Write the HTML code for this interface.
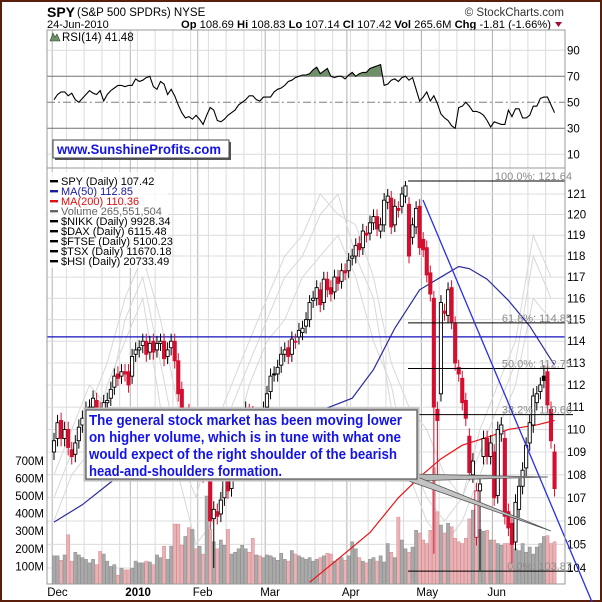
<!DOCTYPE html>
<html><head><meta charset="utf-8">
<style>
html,body{margin:0;padding:0;background:#fff;}
#wrap{position:relative;width:602px;height:602px;overflow:hidden;}
svg text{font-family:"Liberation Sans",Arial,sans-serif;}
</style></head>
<body>
<div id="wrap">
<svg id="chart" width="602" height="602" viewBox="0 0 602 602" xmlns="http://www.w3.org/2000/svg">
<defs>
<clipPath id="mainClip"><rect x="47" y="169" width="518" height="415"/></clipPath>
<clipPath id="rsiClip"><rect x="47" y="30" width="518" height="138"/></clipPath>
<clipPath id="above70"><rect x="47" y="30" width="518" height="46.3"/></clipPath>
</defs>
<rect x="0" y="0" width="602" height="602" fill="#fff" stroke="#5a1e0c" stroke-width="4"/>
<text x="47" y="17" font-size="14" font-weight="bold">SPY</text>
<text x="77" y="16" font-size="11.5">(S&amp;P 500 SPDRs) NYSE</text>
<text x="564" y="16" font-size="11.5" text-anchor="end" fill="#333">© StockCharts.com</text>
<text x="47" y="28" font-size="11">24-Jun-2010</text>
<text x="181" y="28" font-size="11" textLength="370" lengthAdjust="spacingAndGlyphs"><tspan font-weight="bold">Op</tspan> 108.69 <tspan font-weight="bold">Hi</tspan> 108.83 <tspan font-weight="bold">Lo</tspan> 107.14 <tspan font-weight="bold">Cl</tspan> 107.42 <tspan font-weight="bold">Vol</tspan> 265.6M <tspan font-weight="bold">Chg</tspan> -1.81 (-1.66%)</text>
<polygon points="555,22 562,22 558.5,27" fill="#a01030"/>
</svg>
</div>
<script>
// ---------- data ----------
const monthLabels=["Dec","2010","Feb","Mar","Apr","May","Jun"];
const monthStartIdx=[0,22,41,60,83,104,124];
const closes=[109.5,110.3,109.6,110.0,109.2,108.8,109.4,110.1,110.5,110.9,111.0,111.4,111.0,110.7,111.2,111.3,111.8,112.4,112.3,112.6,112.5,112.0,
113.3,113.6,113.7,114.0,113.4,113.9,113.5,113.9,114.0,113.2,113.6,114.0,113.1,111.6,110.0,110.6,109.5,109.9,108.3,
109.3,108.0,108.3,106.0,106.5,106.2,106.9,107.8,107.3,108.5,109.0,109.8,110.4,110.9,110.6,110.0,110.3,110.0,110.9,
111.6,112.4,112.5,112.8,113.4,113.6,113.3,114.1,114.0,114.5,114.6,115.0,115.8,116.0,116.5,115.7,116.9,116.4,116.2,117.0,116.7,117.3,117.2,
117.8,118.0,118.5,118.3,119.2,119.0,119.6,119.9,119.3,119.5,120.7,120.9,119.4,120.4,120.2,121.0,121.4,118.0,119.5,120.3,118.4,
118.3,117.1,116.2,111.0,110.4,115.8,115.3,116.4,114.9,113.0,112.5,111.2,110.5,108.1,108.6,107.3,107.6,109.6,108.8,109.4,
107.0,110.0,110.2,106.2,105.7,105.0,106.8,107.5,108.2,109.3,110.3,111.5,111.6,112.0,112.2,111.1,109.5,107.4];
const opens=[109.0,109.6,110.4,109.6,110.0,109.1,108.9,109.5,110.2,110.6,111.0,111.0,111.3,110.9,110.8,111.2,111.4,111.9,112.5,112.4,112.6,112.6,
112.4,113.4,113.6,113.8,114.0,113.5,114.0,113.6,113.9,114.0,113.3,113.7,114.0,113.1,111.8,110.0,110.8,109.6,110.0,
108.5,109.4,108.1,108.2,106.1,106.4,106.3,107.0,107.9,107.4,108.6,109.2,109.9,110.5,110.8,110.7,110.0,110.4,110.1,
111.0,111.7,112.5,112.5,112.9,113.4,113.7,113.4,114.0,114.2,114.4,114.7,115.0,115.9,116.0,116.4,115.8,116.9,116.5,116.3,117.0,116.8,117.3,
117.3,117.9,118.0,118.6,118.4,119.1,119.1,119.6,119.9,119.2,119.5,120.6,120.8,119.5,120.3,120.4,120.9,120.5,118.9,119.4,120.4,
118.8,118.4,117.2,116.0,110.9,111.6,115.4,115.2,116.5,114.8,112.8,112.3,111.3,109.7,108.0,105.3,107.3,108.8,109.6,108.8,
109.0,107.1,109.8,109.6,106.4,105.9,105.1,106.5,107.5,108.3,109.4,110.2,111.2,111.7,112.4,112.6,110.9,109.0];
const wickLowIdx=[45,107,108,120,129];
const wickLowVal=[104.0,104.6,107.8,103.9,104.2];
const wickHighIdx=[99,138];
const wickHighVal=[121.64,112.9];
const volumes=[160,160,135,165,280,130,180,165,150,140,120,140,110,185,170,130,100,110,50,90,80,80,
90,130,120,120,130,125,110,165,150,215,140,215,340,340,220,270,320,310,200,
215,170,500,310,240,200,250,220,310,170,180,200,220,200,180,260,165,160,150,
165,160,150,135,175,140,130,190,170,160,150,140,150,130,140,150,160,175,170,130,140,150,135,
160,240,200,150,130,120,140,150,130,160,125,230,180,150,380,250,200,180,210,305,290,
250,230,305,660,410,335,290,345,325,260,240,230,260,370,420,330,310,300,305,250,
250,230,220,230,230,250,200,190,230,180,210,170,210,230,270,275,230,240];
const rsiValues=[52,56,58,58,55,57,52,50,53,56,59,57,56,59,51,56,59,61,63,63,62,63,
63,68,66,67,69,70,62,60,66,64,56,60,55,48,42,38,39,37,40,
37,33,40,46,44,36,35,37,40,42,44,48,50,52,55,55,52,51,54,
54,54,58,60,61,63,66,67,69,70,71,71,72,75,77,72,74,76,70,69,70,70,68,
71,73,70,72,73,73,76,77,78,79,63,64,67,68,66,69,70,67,69,60,51,
54,58,51,55,49,41,38,36,32,30,46,47,50,47,43,43,42,40,36,31,
35,34,33,33,44,39,45,45,38,38,40,47,47,53,54,54,48,42];
const ma50Idx=[0,8,17,45,76,84,90,96,103,109,114,117,122,128,134,141];
const ma50Val=[105.95,106.7,107.8,108.9,110.9,111.4,112.7,114.6,116.4,117.0,117.5,117.4,116.9,115.9,114.7,112.9];
const ma200Idx=[72,81,89,97,103,109,115,123,128,136,141];
const ma200Val=[103.4,104.5,105.5,107.0,107.9,108.7,109.3,109.7,110.0,110.2,110.4];
const weeklyIdx=[0,5,10,15,20,25,30,35,40,45,50,55,60,65,70,75,80,85,90,95,100,105,110,115,120,125,130,135,140];
const nikkLine=[108,110,112,111,115,117,113,109,107,110,112,114,116,118,119,121,120,119.5,117,113,111,110,108,107,109,111,113,118,116];
const daxLine=[106,108,109,112,114,116,111,108,105,106,109,112,114,115,117,118,119,117,114,112,108,106,105,106,108,110,112,116,115];
const ftseLine=[107,109,111,113,116,118,115,111,108,108,111,113,115,117,118,120,121,118,116,111,109,107,106,107,110,112,114,119,117];
const priceTicks=[104,105,106,107,108,109,110,111,112,113,114,115,116,117,118,119,120,121];
const volTicks=[100,200,300,400,500,600,700];
const rsiTicks=[10,30,50,70,90];
const fibLevels=[121.64,114.85,112.75,110.66,103.87];
const fibLabels=["100.0%: 121.64","61.8%: 114.85","50.0%: 112.75","38.2%: 110.66","0.0%: 103.87"];
const resistanceLevel=[114.2];
const legendLines=["SPY (Daily) 107.42","MA(50) 112.85","MA(200) 110.36","Volume 265,551,504","$NIKK (Daily) 9928.34","$DAX (Daily) 6115.48","$FTSE (Daily) 5100.23","$TSX (Daily) 11670.18","$HSI (Daily) 20733.49"];
const legendColors=["#000","#1a1aa0","#e01010","#666","#000","#000","#000","#000","#000"];

// ---------- scales ----------
const NS='http://www.w3.org/2000/svg';
const svg=document.getElementById('chart');
function mk(tag,attrs,parent){const e=document.createElementNS(NS,tag);for(const k in attrs)e.setAttribute(k,attrs[k]);(parent||svg).appendChild(e);return e;}
function xOf(i){return 54+i*3.55;}
function yP(p){return 568-2470*Math.log(p/104);}
function yV(v){return 584-v*0.176;}
function yR(r){return 167.3-r*1.3;}
const PL=47,PR=565;

// ---------- panels & grids ----------
const gridG=mk('g',{});


for(let i=4;i<142;i+=5){
  const x=xOf(i)-1.8;
  const l1=mk('line',{x1:x,x2:x,y1:30,y2:168,stroke:'#dcdcdc','stroke-width':1},gridG);
  
  const l2=mk('line',{x1:x,x2:x,y1:169,y2:584,stroke:'#dcdcdc','stroke-width':1},gridG);
  
}
monthStartIdx.forEach((m,k)=>{
  const x=xOf(m)-1.8;
  const l=mk('line',{x1:x,x2:x,y1:30,y2:584,stroke:'#b4b4b4','stroke-width':1},gridG);
  
  const t=mk('text',{x:x-5,y:596,'font-size':11.5,fill:'#000','font-weight':monthLabels[k]==='2010'?'bold':'normal'});
  
  
  t.textContent=monthLabels[k];
});
priceTicks.forEach(p=>{
  const y=yP(p);
  const l=mk('line',{x1:PL,x2:PR,y1:y,y2:y,stroke:'#dcdcdc','stroke-width':1},gridG);
  
  const t=mk('text',{x:567,y:y+4,'font-size':11.5});
  
  
  t.textContent=p;
});
volTicks.forEach(v=>{
  const y=yV(v);
  const t=mk('text',{x:44,y:y+4,'font-size':11.5,'text-anchor':'end'});
  
  
  t.textContent=v+'M';
});
rsiTicks.forEach(r=>{
  const y=yR(r);
  let attrs={x1:PL,x2:PR,y1:y,y2:y,stroke:'#dcdcdc','stroke-width':1};
  if(r===70||r===30){attrs.stroke='#707070';}
  if(r===50){attrs.stroke='#808080';attrs['stroke-dasharray']='8,3,2,3';}
  const l=mk('line',attrs,gridG);
  
  const t=mk('text',{x:567,y:y+4,'font-size':11.5});
  
  
  t.textContent=r;
});

// ---------- RSI ----------
let rsiPts=rsiValues.map((r,i)=>xOf(i)+','+yR(r)).join(' ');
const rsiFill=mk('polygon',{points:xOf(0)+','+yR(70)+' '+rsiPts+' '+xOf(141)+','+yR(70),fill:'#6f8f6a',stroke:'none','clip-path':'url(#above70)'});


const rsiLine=mk('polyline',{points:rsiPts,fill:'none',stroke:'#000','stroke-width':1.1,'clip-path':'url(#rsiClip)'});


const rsiIcon=mk('polygon',{points:'50,41 53,33 55,37 57,34 60,41',fill:'#6f8f6a',stroke:'#2f4f2f','stroke-width':0.6});


const rsiLbl=mk('text',{x:62,y:41,'font-size':11.5});


rsiLbl.textContent='RSI(14) 41.48';

// sunshine box
const spBoxSh=mk('rect',{x:55,y:142,width:176,height:18,fill:'#555'});

const spBox=mk('rect',{x:53,y:140,width:176,height:18,fill:'#fff',stroke:'#444','stroke-width':1});


const spTxt=mk('text',{x:57,y:154,'font-size':13.5,'font-weight':'bold',fill:'#1414e6',textLength:164,lengthAdjust:'spacingAndGlyphs'});


spTxt.textContent='www.SunshineProfits.com';

// ---------- main panel series ----------
const mainG=mk('g',{'clip-path':'url(#mainClip)'});


[nikkLine,daxLine,ftseLine].forEach(arr=>{
  const pl=mk('polyline',{points:arr.map((v,k)=>xOf(weeklyIdx[k])+','+yP(v)).join(' '),fill:'none',stroke:'#d8d8d8','stroke-width':1},mainG);
  
  
});
volumes.forEach((v,i)=>{
  const prev=i===0?109:closes[i-1];
  const down=closes[i]<prev;
  const b=mk('rect',{x:xOf(i)-1.6,y:yV(v),width:3.2,height:584-yV(v),fill:down?'#e9b2b5':'#aaaaaa',stroke:down?'#d88a90':'#8a8a8a','stroke-width':0.5},mainG);
  
  
});
const ma200=mk('polyline',{points:ma200Val.map((v,k)=>xOf(ma200Idx[k])+','+yP(v)).join(' '),fill:'none',stroke:'#ee1111','stroke-width':1.2},mainG);


const ma50=mk('polyline',{points:ma50Val.map((v,k)=>xOf(ma50Idx[k])+','+yP(v)).join(' '),fill:'none',stroke:'#2a2aa0','stroke-width':1.2},mainG);


resistanceLevel.forEach(p=>{
  const r=mk('line',{x1:PL,x2:PR,y1:yP(p),y2:yP(p),stroke:'#1010c0','stroke-width':1.2},mainG);
  
  
});
closes.forEach((c,i)=>{
  const o=opens[i];
  const prev=i===0?109:closes[i-1];
  const col=c<prev?'#d40f2f':'#000';
  let hi=Math.max(o,c)+0.35, lo=Math.min(o,c)-0.35;
  const li=wickLowIdx.indexOf(i); if(li>=0) lo=wickLowVal[li];
  const hk=wickHighIdx.indexOf(i); if(hk>=0) hi=wickHighVal[hk];
  const x=xOf(i);
  const g=mk('g',{},mainG);
  
  
  mk('line',{x1:x,x2:x,y1:yP(hi),y2:yP(lo),stroke:col,'stroke-width':1},g);
  const top=yP(Math.max(o,c)), bot=yP(Math.min(o,c));
  mk('rect',{x:x-1.6,y:top,width:3.2,height:Math.max(1,bot-top),fill:c>o?'#fff':col,stroke:col,'stroke-width':0.9},g);
});
fibLevels.forEach((p,k)=>{
  const y=yP(p);
  const x1=k===4?408:408;
  const l=mk('line',{x1:x1,x2:k>=3?573:565,y1:y,y2:y,stroke:'#000','stroke-width':1});
  
  
  const t=mk('text',{x:572,y:y-1,'font-size':11,'text-anchor':'end',fill:'#8a8a8a'});
  
  
  t.textContent=fibLabels[k];
});
const trend=mk('line',{x1:423,y1:200,x2:592,y2:602,stroke:'#2630e8','stroke-width':1.3});



// frames
const rsiFrame=mk('rect',{x:PL,y:30,width:PR-PL,height:138,fill:'none',stroke:'#9a9a9a','stroke-width':1});


const mainFrame=mk('rect',{x:PL,y:168,width:PR-PL,height:416,fill:'none',stroke:'#9a9a9a','stroke-width':1});



// ---------- legend ----------
const lg=mk('g',{});


const lgBg=mk('rect',{x:48,y:172,width:120,height:96,fill:'#fff','fill-opacity':0.8},lg);

legendLines.forEach((s,k)=>{
  const y=185+k*10;
  const sw=mk('rect',{x:50,y:y-5,width:8,height:2.4,fill:legendColors[k]},lg);
  
  const t=mk('text',{x:61,y:y,'font-size':11,fill:legendColors[k]},lg);
  
  
  t.textContent=s;
});

// ---------- callout ----------
const w1=mk('polygon',{points:'410,474 410,481 548,477',fill:'#b8b8b8',stroke:'#555','stroke-width':0.8});


const w2=mk('polygon',{points:'400,478 420,478 551,531',fill:'#c4c4c4',stroke:'#555','stroke-width':0.8});


const boxOuter=mk('rect',{x:85,y:409,width:333,height:71,fill:'#fff',stroke:'#bdbdbd','stroke-width':3});

const box=mk('rect',{x:86,y:410,width:331,height:69,fill:'#fff',stroke:'#555','stroke-width':1.2});


const lines=["The general stock market has been moving lower","on higher volume, which is in tune with what one","would expect of the right shoulder of the bearish","head-and-shoulders formation."];
const lens=[313,312,308,193];
lines.forEach((s,k)=>{
  const t=mk('text',{x:89,y:425+k*17,'font-size':15,'font-weight':'bold',fill:'#1414e6',textLength:lens[k],lengthAdjust:'spacingAndGlyphs'});
  
  
  t.textContent=s;
});
</script>
</body></html>
